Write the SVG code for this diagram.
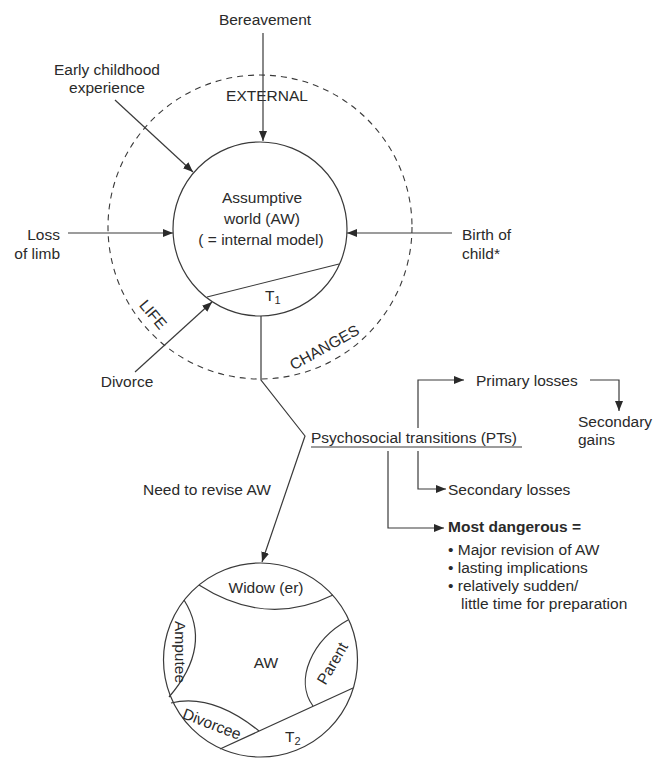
<svg xmlns="http://www.w3.org/2000/svg" width="654" height="758" viewBox="0 0 654 758">
<style>
text{font-family:"Liberation Sans",Arial,sans-serif;font-size:15.5px;fill:#2a2a2a}
.b{font-weight:bold}
.m{text-anchor:middle}
.e{text-anchor:end}
.ln{fill:none;stroke:#3a3a3a;stroke-width:1.2}
.ar{fill:none;stroke:#3a3a3a;stroke-width:1.2;marker-end:url(#ah)}
.dash{fill:none;stroke:#3a3a3a;stroke-width:1.1;stroke-dasharray:6 5}
.sub{font-size:11px}
</style>
<defs>
<marker id="ah" markerUnits="userSpaceOnUse" markerWidth="11" markerHeight="9" refX="10" refY="4" orient="auto">
<path d="M0,0 L10,4 L0,8 z" fill="#2a2a2a"/>
</marker>
</defs>
<rect width="654" height="758" fill="#ffffff"/>

<g id="life-changes">
<circle class="dash" cx="260" cy="227" r="152"/>
<text class="m" x="267" y="101">EXTERNAL</text>
<text class="m" transform="translate(149,318) rotate(50)">LIFE</text>
<text class="m" transform="translate(327,352) rotate(-29)">CHANGES</text>
</g>

<g id="aw1">
<circle class="ln" cx="260" cy="229" r="87"/>
<line class="ln" x1="207" y1="297" x2="339" y2="264"/>
<text class="m" x="262" y="203">Assumptive</text>
<text class="m" x="262" y="224">world (AW)</text>
<text class="m" x="261" y="245">( = internal model)</text>
<text x="265" y="301">T<tspan class="sub" dy="3">1</tspan></text>
</g>

<g id="bereavement"><text class="m" x="265" y="25">Bereavement</text></g>
<g id="early"><text class="m" x="107" y="75">Early childhood</text><text class="m" x="107" y="93">experience</text></g>
<g id="loss"><text class="e" x="60" y="240">Loss</text><text class="e" x="60" y="259">of limb</text></g>
<g id="birth"><text x="462" y="240">Birth of</text><text x="462" y="259">child*</text></g>
<g id="divorce"><text class="m" x="127" y="387">Divorce</text></g>

<g id="pts">
<text x="311" y="443">Psychosocial transitions (PTs)</text>
<line class="ln" x1="311" y1="447" x2="522" y2="447" stroke-width="1"/>
</g>
<g id="need"><text x="143" y="495">Need to revise AW</text></g>
<g id="primary"><text x="476" y="386">Primary losses</text></g>
<g id="gains"><text x="578" y="427">Secondary</text><text x="578" y="445">gains</text></g>
<g id="seclosses"><text x="448" y="495">Secondary losses</text></g>
<g id="dangerous">
<text class="b" x="448" y="532">Most dangerous =</text>
<text x="448" y="555">• Major revision of AW</text>
<text x="448" y="573">• lasting implications</text>
<text x="448" y="591">• relatively sudden/</text>
<text x="461" y="609">little time for preparation</text>
</g>

<g id="aw2">
<circle class="ln" cx="260.5" cy="660" r="97"/>
<path class="ln" d="M199,585 Q266,628 333,595"/>
<path class="ln" d="M184,600 Q213,646 169,697"/>
<path class="ln" d="M171,703 Q212,693 259,731"/>
<path class="ln" d="M348,620 C312,640 294,680 313,706"/>
<line class="ln" x1="353" y1="688" x2="220" y2="749"/>
<text class="m" x="266" y="593">Widow (er)</text>
<text class="m" x="266" y="668">AW</text>
<text class="m" transform="translate(175,652) rotate(90)">Amputee</text>
<text class="m" transform="translate(337,666) rotate(-60)">Parent</text>
<text class="m" transform="translate(210,729) rotate(21)">Divorcee</text>
<text x="285" y="742">T<tspan class="sub" dy="3">2</tspan></text>
</g>

<g id="connectors">
<path class="ar" d="M263,33 V141"/>
<path class="ar" d="M115,100 L193,172"/>
<path class="ar" d="M68,233 H173"/>
<path class="ar" d="M452,233 H347"/>
<path class="ar" d="M135,372 L212,302"/>
<path class="ar" d="M261,316 V380 L305,436 L262,562"/>
<path class="ar" d="M418,428 V380 H464"/>
<path class="ar" d="M590,380 H619 V411"/>
<path class="ar" d="M418,451 V489 H446"/>
<path class="ar" d="M388,451 V528 H444"/>
</g>
</svg>
